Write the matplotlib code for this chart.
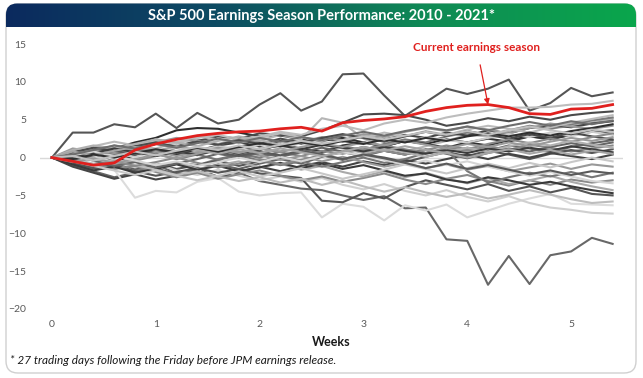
import numpy as np
import matplotlib
matplotlib.use('Agg')
import matplotlib.pyplot as plt
from matplotlib.patches import FancyBboxPatch
from matplotlib.colors import LinearSegmentedColormap

plt.rcParams['font.family'] = ['Lato', 'DejaVu Sans']

# trading days 0..27 expressed in weeks
weeks = np.arange(28) / 5.0

# current season
current = [0, -0.5, -1.0, -0.7, 1.0, 1.8, 2.4, 2.9, 3.2, 3.4, 3.5, 3.8, 4.0, 3.5,
           4.6, 4.9, 5.1, 5.4, 6.1, 6.6, 6.9, 7.0, 6.6, 5.8, 5.7, 6.4, 6.5, 7.0]

# past seasons 2010 - 2021
s01 = [0, 3.3, 3.3, 4.4, 4.0, 5.8, 3.9, 5.9, 4.5, 5.0, 7.0, 8.5, 6.2, 7.4, 11.0, 11.1, 8.2, 5.5, 7.3, 9.1, 8.4, 9.1, 10.3, 6.2, 7.2, 9.2, 8.1, 8.6]
s02 = [0, -0.5, -1.2, -0.4, -1.6, -0.9, -2.1, -1.3, -2.6, -2.0, -3.1, -3.6, -4.1, -4.3, -5.0, -5.6, -5.1, -6.7, -6.6, -10.8, -11.0, -16.8, -13.0, -16.7, -12.9, -12.4, -10.6, -11.4]
s03 = [0, 0.8, 1.5, 1.2, 2.0, 2.6, 3.6, 3.9, 3.8, 3.3, 2.8, 2.9, 2.5, 2.2, 2.6, 2.0, 1.5, 2.2, 1.8, 2.4, 2.0, 1.6, 2.3, 2.8, 2.5, 3.0, 3.4, 3.6]
s04 = [0, 0.5, 0.3, 1.0, 1.5, 1.2, 2.0, 2.4, 1.8, 2.5, 2.2, 3.0, 2.4, 5.2, 4.6, 2.5, 1.4, 0.8, 1.5, 2.2, 3.0, 2.8, 3.5, 4.0, 3.8, 4.2, 4.6, 5.2]
s05 = [0, 0.3, 0.9, 0.5, 1.2, 1.8, 1.5, 2.2, 2.8, 2.5, 3.2, 3.0, 2.8, 3.6, 4.6, 5.7, 5.8, 5.6, 5.0, 4.2, 4.6, 5.2, 4.8, 5.4, 5.0, 5.6, 5.9, 6.1]
s06 = [0, 0.6, 1.0, 0.7, 1.5, 2.2, 1.8, 2.6, 3.0, 2.4, 2.8, 3.4, 3.0, 3.8, 4.2, 3.6, 4.5, 5.0, 4.6, 5.3, 5.8, 6.2, 6.6, 6.6, 6.7, 7.0, 7.1, 7.5]
s07 = [0, -0.8, -1.5, -1.0, -1.8, -1.2, -0.6, -1.0, -0.2, 0.4, 0.0, 0.8, 1.2, 0.6, 1.5, 1.0, 1.8, 2.4, 2.0, 2.8, 3.3, 3.0, 3.6, 4.2, 3.8, 4.4, 4.9, 5.3]
s08 = [0, 0.5, -0.3, 0.4, 1.0, 0.6, 1.3, 0.9, 1.6, 2.0, 1.5, 2.2, 1.8, 2.6, 2.1, 2.8, 2.4, 3.0, 2.6, 3.3, 2.9, 3.6, 3.2, 3.9, 4.3, 4.0, 4.5, 4.8]
s09 = [0, 1.2, 0.8, 1.6, 1.1, 2.0, 2.6, 2.2, 1.7, 2.4, 2.0, 1.4, 2.1, 2.7, 2.3, 3.1, 2.7, 3.4, 3.9, 3.5, 4.1, 3.7, 3.2, 3.9, 4.5, 4.1, 3.8, 4.2]
s10 = [0, -0.4, 0.2, -0.5, 0.3, 0.9, 0.4, 1.1, 0.7, 1.4, 1.0, 1.7, 1.2, 0.8, 1.6, 2.0, 1.5, 2.2, 1.8, 1.3, 2.0, 2.5, 2.1, 2.8, 2.4, 3.0, 3.5, 3.1]
s11 = [0, 0.9, 1.5, 2.1, 1.6, 2.4, 2.0, 2.8, 2.4, 1.9, 2.6, 3.2, 2.7, 2.2, 3.0, 2.6, 3.3, 2.8, 3.5, 3.0, 3.7, 4.2, 3.8, 3.3, 4.0, 4.6, 5.1, 5.6]
s12 = [0, -1.0, -1.8, -2.6, -2.0, -1.4, -2.2, -1.6, -0.9, -1.5, -0.8, -0.2, -0.8, 0.1, 0.7, 0.2, 0.9, 0.4, 1.1, 0.6, 1.3, 0.9, 1.6, 1.2, 0.7, 1.4, 1.9, 2.3]
s13 = [0, 0.2, 0.7, 0.3, -0.4, 0.2, 0.8, 0.3, 1.0, 0.6, 1.2, 0.7, 0.2, 0.9, 0.5, 1.1, 1.6, 1.1, 0.6, 1.3, 0.9, 1.5, 1.0, 1.7, 1.3, 0.8, 1.2, 1.6]
s14 = [0, -0.6, -1.2, -0.7, -1.4, -0.8, -1.5, -1.0, -0.4, -1.1, -0.5, 0.1, -0.4, 0.3, -0.3, 0.4, 0.0, -0.6, 0.1, 0.7, 0.2, 0.9, 0.4, -0.2, 0.5, 1.0, 0.6, 1.1]
s15 = [0, 0.4, -0.2, 0.5, 0.1, 0.8, 1.3, 0.9, 1.5, 1.1, 1.7, 1.2, 1.9, 1.5, 2.2, 1.8, 2.5, 2.0, 2.7, 2.3, 2.0, 2.6, 3.1, 2.7, 3.3, 2.8, 3.4, 3.0]
s16 = [0, -1.2, -2.0, -2.8, -2.2, -2.9, -2.4, -1.8, -2.5, -1.9, -1.2, -1.8, -1.1, -0.6, -1.2, -0.5, -1.0, -0.3, -0.8, -0.2, 0.4, -0.2, 0.5, 0.0, 0.6, 0.2, -0.2, 0.4]
s17 = [0, -0.3, -0.9, -1.6, -5.3, -4.4, -4.6, -3.2, -2.7, -4.5, -5.0, -4.7, -4.6, -7.9, -6.1, -6.5, -8.3, -6.3, -7.0, -6.2, -7.9, -7.0, -6.1, -5.4, -4.8, -6.1, -6.2, -6.3]
s18 = [0, -0.5, 0.2, -0.6, -1.3, -0.8, -1.7, -2.3, -1.6, -2.4, -3.0, -2.5, -3.2, -2.7, -3.6, -4.2, -3.5, -4.4, -5.0, -4.3, -5.2, -5.8, -5.1, -6.0, -6.6, -6.9, -7.3, -7.4]
s19 = [0, -0.7, -1.4, -1.0, -1.8, -2.4, -1.9, -1.4, -2.0, -1.5, -2.1, -2.4, -2.7, -5.7, -5.9, -4.7, -5.4, -3.9, -3.0, -3.6, -4.2, -3.5, -4.4, -3.8, -4.6, -4.0, -4.8, -5.0]
s20 = [0, -0.3, -0.9, -1.5, -1.1, -1.9, -2.6, -2.0, -2.8, -2.2, -1.7, -2.4, -3.0, -2.5, -3.2, -2.7, -2.1, -2.9, -3.5, -2.8, -2.3, -3.1, -3.7, -3.0, -3.6, -2.9, -3.3, -3.0]
s21 = [0, 0.5, -0.2, -0.9, -0.4, -1.2, -0.7, -1.5, -1.0, -0.5, -1.3, -0.8, -1.6, -1.1, -1.9, -2.5, -1.8, -2.6, -2.0, -2.8, -3.4, -2.7, -3.5, -3.0, -2.4, -3.2, -3.8, -4.3]
s22 = [0, -0.9, -1.7, -1.2, -2.0, -1.5, -0.9, -1.6, -1.1, -1.8, -1.3, -0.7, -1.4, -0.8, -1.5, -1.0, -1.7, -2.4, -2.1, -2.9, -3.3, -2.6, -3.0, -3.6, -3.2, -3.8, -4.3, -4.7]
s23 = [0, 0.3, 0.9, 0.4, 1.0, 0.5, -0.2, 0.4, -0.3, 0.3, -0.4, -1.0, -0.5, -1.2, -0.6, 0.0, -0.7, -0.2, 0.6, 1.0, -1.8, -3.3, -2.6, -2.0, -2.5, -1.9, -2.6, -2.0]
s24 = [0, -0.2, -0.8, -0.3, -1.0, -1.6, -2.3, -1.8, -2.5, -3.1, -2.6, -3.3, -2.8, -3.6, -3.0, -3.8, -4.5, -3.9, -4.6, -5.2, -4.7, -5.4, -4.9, -4.3, -4.9, -5.5, -6.0, -5.8]
s25 = [0, 0.6, 1.1, 0.6, 1.2, 0.8, 0.2, 0.7, 1.3, 0.8, 0.3, -0.3, 0.2, -0.5, 0.1, -0.6, -1.2, -0.7, -1.4, -0.9, -1.6, -1.1, -1.8, -1.3, -0.8, -1.5, -0.9, -1.2]
s26 = [0, 0.2, -0.4, -1.1, -0.6, -1.3, -0.8, -0.2, 0.5, 0.0, 0.6, 0.1, 0.7, 1.3, 0.8, 1.4, 0.9, 0.4, 1.0, 0.5, -0.1, 0.6, 1.2, 0.8, 1.4, 1.9, 1.5, 2.0]
s27 = [0, -0.5, -1.1, -1.7, -2.3, -1.7, -2.4, -3.0, -2.4, -1.8, -2.5, -2.0, -1.4, -2.1, -2.8, -2.2, -1.6, -0.9, -1.5, -2.1, -1.4, -0.8, -1.4, -0.7, -1.3, -0.6, 0.0, -0.5]
s28 = [0, 0.7, 1.3, 0.9, 1.5, 2.0, 1.4, 2.1, 1.7, 2.3, 1.8, 2.5, 2.0, 2.6, 3.1, 2.6, 2.1, 2.8, 3.4, 2.9, 3.5, 3.0, 2.5, 3.1, 2.6, 3.3, 2.8, 2.4]
s29 = [0, -0.4, -1.0, -0.5, -1.1, -0.6, 0.0, -0.7, -1.3, -0.8, -0.2, -0.9, -0.3, 0.3, -0.2, 0.4, 0.9, 0.4, 1.0, 1.6, 1.1, 1.8, 2.4, 1.9, 2.5, 2.1, 2.7, 3.2]
s30 = [0, 1.0, 1.6, 1.2, 1.8, 2.4, 2.0, 1.5, 2.2, 2.8, 2.3, 1.7, 1.1, 1.7, 1.2, 0.6, 1.2, 0.7, 0.1, 0.7, 1.3, 0.8, 1.5, 2.0, 1.6, 2.2, 1.7, 1.3]
s31 = [0, 0.1, 0.6, 1.2, 0.7, 0.2, 0.8, 0.4, 1.0, 0.5, 1.1, 1.6, 1.1, 1.7, 1.3, 0.8, 1.4, 0.9, 0.5, 1.0, 0.6, 1.2, 0.8, 1.3, 0.9, 1.5, 1.1, 0.7]
s32 = [0, -0.6, -0.1, -0.7, -0.2, 0.4, -0.1, 0.5, 1.1, 0.6, 1.2, 0.8, 1.4, 1.9, 1.4, 2.0, 1.6, 2.2, 1.7, 1.2, 1.8, 1.4, 2.0, 1.5, 2.1, 2.6, 2.2, 2.7]
s33 = [0, 0.3, 0.8, 0.2, -0.4, -1.0, -0.5, -1.1, -0.6, 0.0, -0.6, 0.1, -0.5, 0.2, 0.7, 0.3, -0.3, -0.9, -0.4, -1.0, -0.5, -1.2, -1.8, -2.4, -1.9, -2.5, -3.1, -3.4]
s34 = [0, -0.3, 0.3, 0.9, 0.4, 1.0, 0.6, 1.2, 0.7, 0.2, 0.8, 0.3, 0.9, 0.4, -0.2, 0.4, -0.1, -0.7, -1.4, -0.8, -1.5, -1.0, -1.6, -2.2, -1.7, -2.3, -1.8, -2.1]
s35 = [0, 0.8, 0.3, 0.9, 1.4, 0.9, 1.5, 1.0, 0.5, 1.1, 0.6, 1.2, 0.7, 0.2, 0.8, 1.4, 0.9, 1.5, 1.0, 0.6, 0.0, 0.6, 1.1, 0.5, 1.0, 0.4, 0.9, 0.5]
s36 = [0, 0.4, 1.0, 1.6, 1.2, 1.8, 1.3, 1.9, 2.5, 2.0, 2.6, 2.1, 2.7, 2.3, 2.9, 3.4, 2.9, 3.5, 4.0, 3.6, 4.1, 3.6, 4.2, 4.7, 4.2, 4.8, 4.4, 4.9]
s37 = [0, -0.2, 0.4, 0.0, 0.6, 1.1, 0.7, 1.3, 0.8, 1.4, 1.9, 1.5, 2.0, 1.6, 2.2, 1.8, 2.4, 2.0, 2.6, 2.2, 2.8, 3.2, 2.8, 3.3, 2.9, 3.5, 3.9, 4.4]
s38 = [0, 0.2, -0.4, 0.2, 0.8, 0.3, 0.9, 1.4, 1.0, 1.6, 1.1, 1.7, 2.2, 1.8, 2.3, 2.8, 2.4, 2.9, 3.4, 3.0, 3.5, 3.0, 3.6, 4.1, 3.6, 3.2, 3.7, 3.4]

seasons = [s01, s02, s03, s04, s05, s06, s07, s08, s09, s10, s11, s12, s13, s14, s15, s16, s17, s18, s19,
           s20, s21, s22, s23, s24, s25, s26, s27, s28, s29, s30, s31, s32, s33, s34, s35, s36, s37, s38]
shades = ['#555555', '#686868', '#2e2e2e', '#b5b5b5', '#4a4a4a', '#bdbdbd', '#7a7a7a', '#444444', '#9a9a9a', '#333333',
          '#bbbbbb', '#666666', '#888888', '#555555', '#cccccc', '#444444', '#dcdcdc', '#d0d0d0', '#555555', '#8a8a8a',
          '#aaaaaa', '#3a3a3a', '#777777', '#bdbdbd', '#999999', '#666666', '#c8c8c8', '#4a4a4a', '#8a8a8a', '#b0b0b0',
          '#3c3c3c', '#9a9a9a', '#d5d5d5', '#5a5a5a', '#a5a5a5', '#6e6e6e', '#2f2f2f', '#c0c0c0']

W, H = 643, 378
fig = plt.figure(figsize=(W / 100, H / 100), dpi=100, facecolor='white')
inch = fig.dpi_scale_trans

# rounded white panel (coordinates in inches)
panel = FancyBboxPatch((0.06, 0.05), 6.30, 3.69, boxstyle='round,pad=0,rounding_size=0.12',
                       transform=inch, facecolor='white', edgecolor='#d0d0d0', linewidth=1.0, zorder=-5)
fig.patches.append(panel)

# gradient title bar with rounded top corners
tax = fig.add_axes([6 / W, (H - 27) / H, 630 / W, 24 / H])
grad = np.linspace(0, 1, 256).reshape(1, -1)
cmap = LinearSegmentedColormap.from_list('bar', ['#0b2a5e', '#0d4b63', '#0f8a55', '#0aa64c'])
img = tax.imshow(grad, aspect='auto', cmap=cmap, extent=[0, 1, 0, 1])
clip = FancyBboxPatch((0.06, 3.30), 6.30, 0.445, boxstyle='round,pad=0,rounding_size=0.11',
                      transform=inch, facecolor='none', edgecolor='none')
img.set_clip_path(clip)
tax.set_xlim(0, 1)
tax.set_ylim(0, 1)
tax.axis('off')
tax.text(0.5, 0.45, 'S&P 500 Earnings Season Performance: 2010 - 2021*', color='white',
         fontsize=10.5, fontweight='bold', ha='center', va='center', transform=tax.transAxes)

# main chart
ax = fig.add_axes([40 / W, (H - 309) / H, 583 / W, 265 / H])
ax.axhline(0, color='#d9d9d9', lw=1.0, zorder=1)
for s, c in zip(seasons, shades):
    ax.plot(weeks, s, color=c, lw=1.5, zorder=2)
ax.plot(weeks, current, color='#e0201e', lw=2.0, zorder=3)

ax.set_xlim(-0.115, 5.5)
ax.set_ylim(-20, 15)
ax.set_xticks([0, 1, 2, 3, 4, 5])
ax.set_yticks([-20, -15, -10, -5, 0, 5, 10, 15])
ax.tick_params(length=0, labelsize=7.5, labelcolor='#595959')
ax.tick_params(axis='x', pad=8)
ax.tick_params(axis='y', pad=10)
for sp in ax.spines.values():
    sp.set_visible(False)
ax.set_facecolor('none')
ax.set_xlabel('Weeks', fontsize=9, fontweight='bold', color='#1a1a1a', labelpad=5)

ax.annotate('Current earnings season', xy=(weeks[21], current[21]), xytext=(4.09, 14.6),
            color='#e0201e', fontsize=8.5, fontweight='bold', ha='center', va='center',
            arrowprops=dict(arrowstyle='-|>', color='#e0201e', lw=0.9, mutation_scale=8,
                            shrinkA=7, shrinkB=0))

fig.text(10 / W, (H - 360) / H, '* 27 trading days following the Friday before JPM earnings release.',
         fontsize=8.5, fontstyle='italic', color='#1a1a1a', va='center')

fig.savefig('out.png', dpi=100, facecolor='white')
